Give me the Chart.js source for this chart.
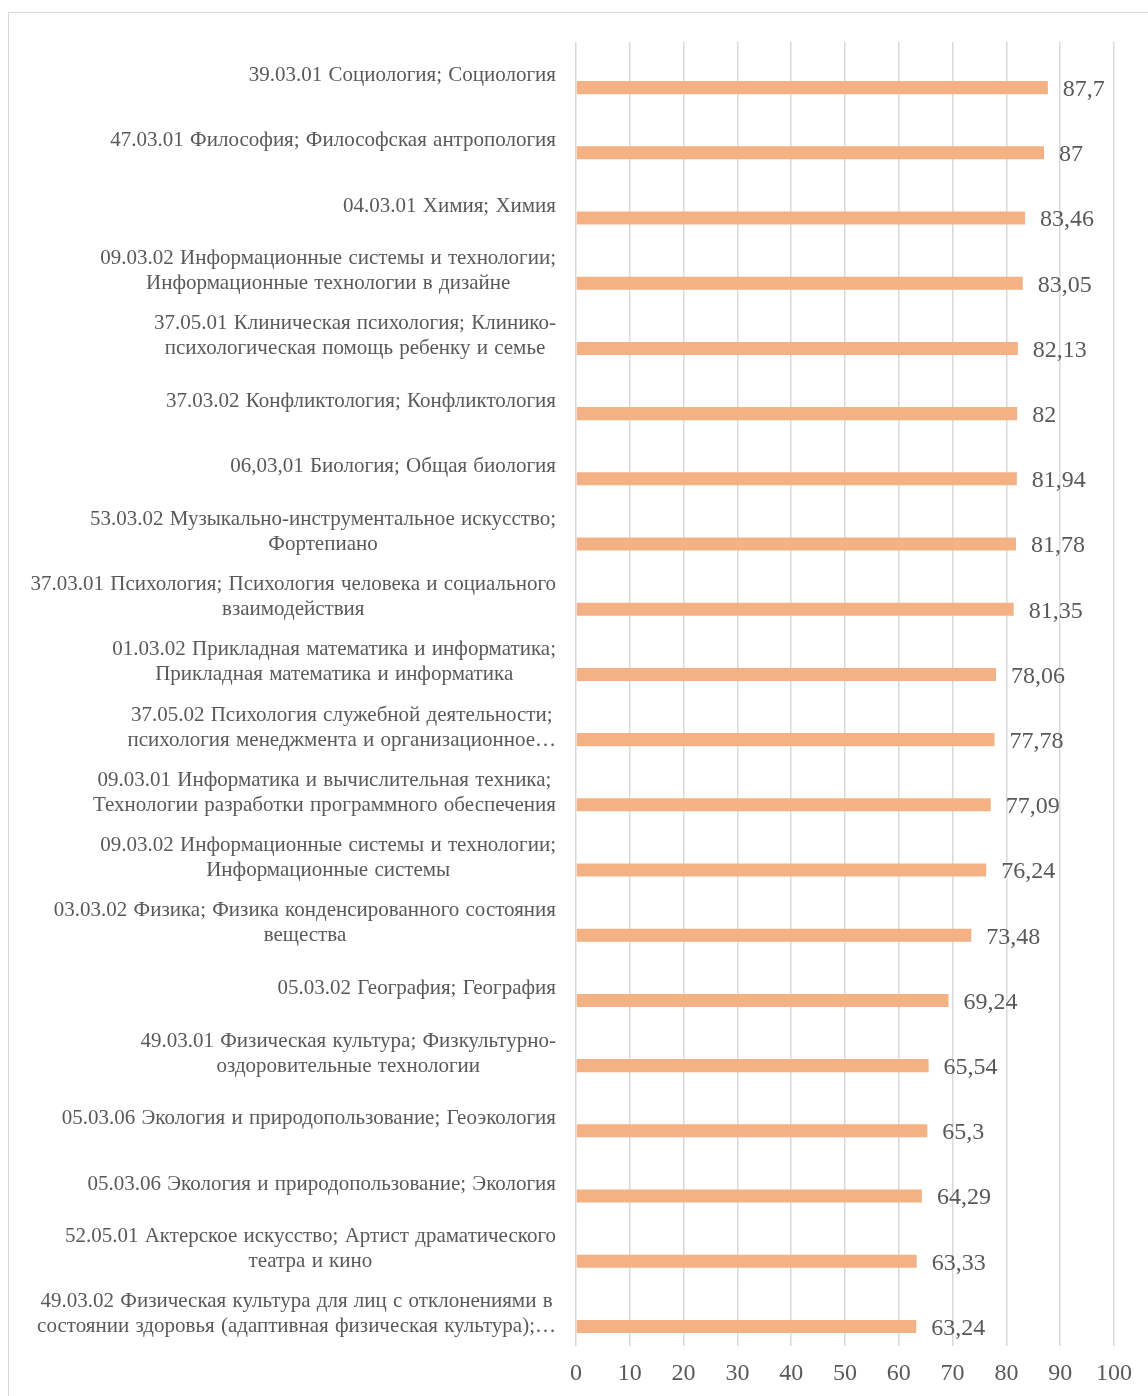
<!DOCTYPE html>
<html>
<head>
<meta charset="utf-8">
<script src="https://cdn.jsdelivr.net/npm/chart.js@4.4.1/dist/chart.umd.min.js"></script>
<style>
  html, body { margin: 0; padding: 0; background: #fff; }
  #wrap { position: relative; width: 1148px; height: 1396px; }
</style>
</head>
<body>
<div id="wrap"><canvas id="chart"></canvas></div>
<script>
// Направления подготовки (подписи разбиты на строки как на исходном графике)
const categories = [
    ["39.03.01 Социология; Социология"],
    ["47.03.01 Философия; Философская антропология"],
    ["04.03.01 Химия; Химия"],
    ["09.03.02 Информационные системы и технологии;", "Информационные технологии в дизайне"],
    ["37.05.01 Клиническая психология; Клинико-", "психологическая помощь ребенку и семье"],
    ["37.03.02 Конфликтология; Конфликтология"],
    ["06,03,01 Биология; Общая биология"],
    ["53.03.02 Музыкально-инструментальное искусство;", "Фортепиано"],
    ["37.03.01 Психология; Психология человека и социального", "взаимодействия"],
    ["01.03.02 Прикладная математика и информатика;", "Прикладная математика и информатика"],
    ["37.05.02 Психология служебной деятельности;", "психология менеджмента и организационное…"],
    ["09.03.01 Информатика и вычислительная техника;", "Технологии разработки программного обеспечения"],
    ["09.03.02 Информационные системы и технологии;", "Информационные системы"],
    ["03.03.02 Физика; Физика конденсированного состояния", "вещества"],
    ["05.03.02 География; География"],
    ["49.03.01 Физическая культура; Физкультурно-", "оздоровительные технологии"],
    ["05.03.06 Экология и природопользование; Геоэкология"],
    ["05.03.06 Экология и природопользование; Экология"],
    ["52.05.01 Актерское искусство; Артист драматического", "театра и кино"],
    ["49.03.02 Физическая культура для лиц с отклонениями в", "состоянии здоровья (адаптивная физическая культура);…"]
];

// Средний балл
const scores = [87.7, 87, 83.46, 83.05, 82.13, 82, 81.94, 81.78, 81.35, 78.06,
                77.78, 77.09, 76.24, 73.48, 69.24, 65.54, 65.3, 64.29, 63.33, 63.24];

// пустой ряд (в исходной диаграмме он сдвигает полосы вниз)
const emptySeries = scores.map(() => null);

const xTicks = [0, 10, 20, 30, 40, 50, 60, 70, 80, 90, 100];

const textColor = "#595959";
const fontFamily = "'Liberation Serif', 'Times New Roman', serif";

// Рамка, подписи категорий и подписи значений
const labelsPlugin = {
    id: "labelsPlugin",
    beforeDraw(chart) {
        const c = chart.ctx;
        c.save();
        c.strokeStyle = "#d9d9d9";
        c.lineWidth = 1;
        c.strokeRect(8.5, 12.5, 1300, 1500);
        c.restore();
    },
    afterDatasetsDraw(chart) {
        const c = chart.ctx;
        const yScale = chart.scales.y;
        const right = chart.chartArea.left - 20;
        c.save();
        c.fillStyle = textColor;
        c.font = "21px " + fontFamily;
        c.wordSpacing = "1px";
        c.textBaseline = "middle";
        c.textAlign = "center";
        categories.forEach((lines, i) => {
            const cy = yScale.getPixelForValue(i) + 1;
            const w = Math.max(...lines.map(l => c.measureText(l).width));
            const cx = right - w / 2;
            const lh = 25;
            const y0 = cy - (lines.length - 1) * lh / 2;
            lines.forEach((l, k) => c.fillText(l, cx, y0 + k * lh));
        });

        // значения справа от полос
        c.wordSpacing = "0px";
        c.font = "24px " + fontFamily;
        c.textAlign = "left";
        const meta = chart.getDatasetMeta(1);
        meta.data.forEach((bar, i) => {
            const txt = String(scores[i]).replace(".", ",");
            c.fillText(txt, bar.x + 15, bar.y + 2);
        });
        c.restore();
    }
};

const ctx = document.getElementById("chart").getContext("2d");
const chart = new Chart(ctx, {
    type: "bar",
    data: {
        labels: categories,
        datasets: [
            { label: "", data: emptySeries, backgroundColor: "rgba(0,0,0,0)" },
            {
                label: "Средний балл",
                data: scores,
                backgroundColor: "#F4B183",
                borderWidth: 0
            }
        ]
    },
    options: {
        indexAxis: "y",
        responsive: true,
        maintainAspectRatio: false,
        animation: false,
        datasets: { bar: { categoryPercentage: 0.8, barPercentage: 0.5 } },
        layout: { padding: { left: 0, top: 42, right: 34, bottom: 0 } },
        plugins: {
            legend: { display: false },
            tooltip: { enabled: false }
        },
        scales: {
            x: {
                min: 0,
                max: 100,
                afterBuildTicks: axis => { axis.ticks = xTicks.map(v => ({ value: v })); },
                afterFit: axis => { axis.height = 50; },
                grid: { color: "#d9d9d9", lineWidth: 1.5, drawTicks: false },
                border: { display: false },
                ticks: {
                    padding: 13,
                    color: textColor,
                    font: { family: fontFamily, size: 24 }
                }
            },
            y: {
                afterFit: axis => { axis.width = 576; },
                grid: { display: false },
                border: { display: false },
                ticks: { display: false }
            }
        }
    },
    plugins: [labelsPlugin]
});
</script>
</body>
</html>
